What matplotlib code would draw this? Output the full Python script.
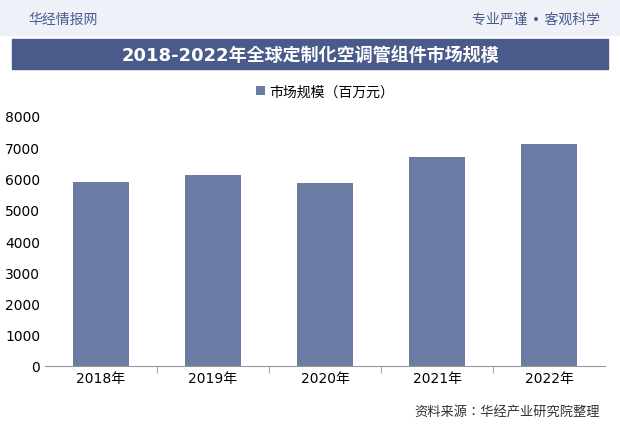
import matplotlib
matplotlib.use("Agg")
import matplotlib.pyplot as plt
from matplotlib.patches import Rectangle
from matplotlib import font_manager

names = {f.name for f in font_manager.fontManager.ttflist}
cjk = [n for n in ["Noto Sans CJK SC", "Noto Sans CJK JP", "Noto Sans CJK TC", "Noto Sans CJK KR",
                   "Noto Sans SC", "Noto Serif CJK SC"] if n in names]
plt.rcParams['font.family'] = ['DejaVu Sans'] + cjk
plt.rcParams['font.sans-serif'] = ['DejaVu Sans'] + cjk

years = ["2018年", "2019年", "2020年", "2021年", "2022年"]
values = [5900, 6100, 5870, 6680, 7120]
yticks = [0, 1000, 2000, 3000, 4000, 5000, 6000, 7000, 8000]

W, H = 620, 439
fig = plt.figure(figsize=(W/100, H/100), dpi=100)
fig.patch.set_facecolor("white")

fig.patches.append(Rectangle((0, 1-36/H), 1, 36/H, transform=fig.transFigure, color="#eef2f8", zorder=0))
fig.patches.append(Rectangle((12/W, 1-70/H), 596/W, 30/H, transform=fig.transFigure, color="#4a5a8a", zorder=1))
fig.text(28/W, 1-20/H, "华经情报网", fontsize=10, color="#4a5a8a", va="center")
fig.text(600/W, 1-20/H, "专业严谨 • 客观科学", fontsize=10, color="#4a5a8a", va="center", ha="right")
fig.text(0.5, 1-56/H, "2018-2022年全球定制化空调管组件市场规模", fontsize=13, fontweight="bold",
         color="white", va="center", ha="center")
fig.text(600/W, 1-412/H, "资料来源：华经产业研究院整理", fontsize=9.5, color="#333333", ha="right", va="center")

ax = fig.add_axes([45/W, 1-367/H, 560/W, 250/H])
ax.bar(years, values, width=0.5, color="#6a7ca3", label="市场规模（百万元）")
ax.set_ylim(0, 8000)
ax.set_yticks(yticks)
ax.set_xlim(-0.5, 4.5)
for s in ["top", "right", "left"]:
    ax.spines[s].set_visible(False)
ax.spines["bottom"].set_color("#999999")
ax.tick_params(axis="y", length=0, labelsize=10)
ax.set_xticks([0.5, 1.5, 2.5, 3.5], minor=True)
ax.tick_params(axis="x", which="major", length=0, labelsize=10)
ax.tick_params(axis="x", which="minor", length=5, color="#999999")
ax.legend(loc="lower center", bbox_to_anchor=(0.5, 1.02), frameon=False, fontsize=10,
          handlelength=0.6, handleheight=0.6, handletextpad=0.3)

fig.savefig("out.png", dpi=100)
